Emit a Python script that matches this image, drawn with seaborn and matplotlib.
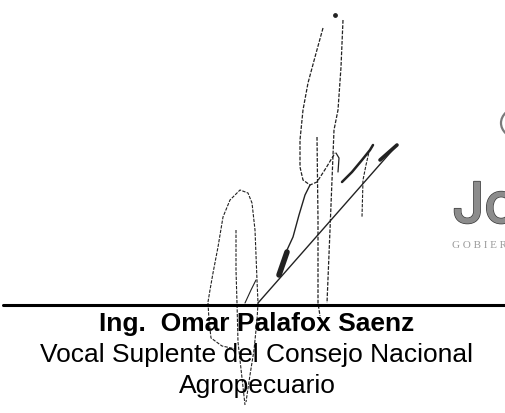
import matplotlib
matplotlib.use("Agg")
import matplotlib.pyplot as plt
import matplotlib.patheffects as pe
from matplotlib.patches import Arc
import seaborn as sns

# canvas in pixel units (y grows downward)
W, H = 506, 413

# signature strokes in pixel coordinates
diag_x = [258, 397]
diag_y = [303, 145]
diag_tip_x = [380, 397]
diag_tip_y = [160, 145]

loop_left_x = [323, 315, 308, 303, 300, 300, 303, 310, 317, 326, 335]
loop_left_y = [28, 57, 83, 110, 140, 167, 180, 185, 182, 168, 153]
loop_right_x = [343, 341, 338, 334, 333, 330, 327]
loop_right_y = [20, 67, 110, 130, 155, 230, 303]
hump_x = [336, 339, 338]
hump_y = [153, 158, 172]
inner_x = [317, 318, 318, 320]
inner_y = [137, 220, 303, 316]
down_x = [310, 305, 299, 293, 287, 283, 280]
down_y = [185, 195, 215, 237, 250, 260, 273]
blob_x = [287, 279]
blob_y = [252, 275]

right_x = [342, 352, 362, 370, 373]
right_y = [182, 172, 160, 150, 145]
right_tail_x = [373, 369, 366, 363, 362]
right_tail_y = [145, 152, 165, 180, 217]

small_loop_x = [208, 210, 213, 218, 223, 230, 240, 248, 252, 255, 257, 258, 257, 254, 250, 246]
small_loop_y = [302, 290, 273, 247, 217, 200, 190, 193, 203, 230, 280, 303, 320, 350, 375, 402]
stem_x = [236, 236, 237, 238, 242, 245]
stem_y = [230, 270, 303, 342, 378, 405]
leg_x = [208, 209, 211, 222, 236]
leg_y = [303, 320, 338, 346, 349]
tick_x = [245, 251, 256]
tick_y = [303, 290, 280]

# signature line and caption
rule_x = [3, 506]
rule_y = [305, 305]
caption = ["Ing.  Omar Palafox Saenz",
           "Vocal Suplente del Consejo Nacional",
           "Agropecuario"]
caption_y = [331, 362, 393]
caption_weight = ["bold", "normal", "normal"]

sns.set_style("white")
plt.rcParams["font.family"] = ["Liberation Sans", "DejaVu Sans"]

fig = plt.figure(figsize=(W / 100, H / 100), dpi=100)
ax = fig.add_axes([0, 0, 1, 1])
ax.set_xlim(0, W)
ax.set_ylim(H, 0)
ax.axis("off")

ink = "#222222"
faint = (0, (3, 1.2))
strokes = [
    (diag_x, diag_y, 1.0, "-"),
    (diag_tip_x, diag_tip_y, 2.6, "-"),
    (loop_left_x, loop_left_y, 0.9, faint),
    (loop_right_x, loop_right_y, 0.9, faint),
    (hump_x, hump_y, 0.9, "-"),
    (inner_x, inner_y, 0.9, faint),
    (down_x, down_y, 1.0, "-"),
    (blob_x, blob_y, 4.0, "-"),
    (right_x, right_y, 1.8, "-"),
    (right_tail_x, right_tail_y, 0.8, faint),
    (small_loop_x, small_loop_y, 0.8, faint),
    (stem_x, stem_y, 0.8, faint),
    (leg_x, leg_y, 0.8, faint),
    (tick_x, tick_y, 0.8, "-"),
]
for xs, ys, lw, ls in strokes:
    sns.lineplot(x=xs, y=ys, sort=False, estimator=None, ax=ax,
                 color=ink, lw=lw, linestyle=ls)
ax.scatter([335], [15], s=6, color=ink, zorder=3)

sns.lineplot(x=rule_x, y=rule_y, ax=ax, color="black", lw=2.2)

for text, y, wt in zip(caption, caption_y, caption_weight):
    ax.text(257, y, text, ha="center", va="baseline", fontsize=19,
            fontweight=wt, color="black")

# partial logo, cut off at the right edge as in the scan
logo_fx = [pe.withStroke(linewidth=1.0, foreground="#3a3a3a")]
ax.text(452, 223, "J", fontsize=41, color="#8c8c8c", va="baseline",
        family=["Inter", "DejaVu Sans"], fontweight="medium",
        path_effects=logo_fx)
ax.text(484, 223, "o", fontsize=41, color="#8c8c8c", va="baseline",
        family=["Inter", "DejaVu Sans"], fontweight="medium",
        path_effects=logo_fx)
ax.add_patch(Arc((524, 123), 46, 34, theta1=110, theta2=250,
                 color="#7a7a7a", lw=1.6))
ax.text(452, 248, "G O B I E R N O", fontsize=8, color="#9a9a9a",
        va="baseline", family=["Liberation Serif", "DejaVu Serif"])

fig.savefig("out.png", dpi=100)
